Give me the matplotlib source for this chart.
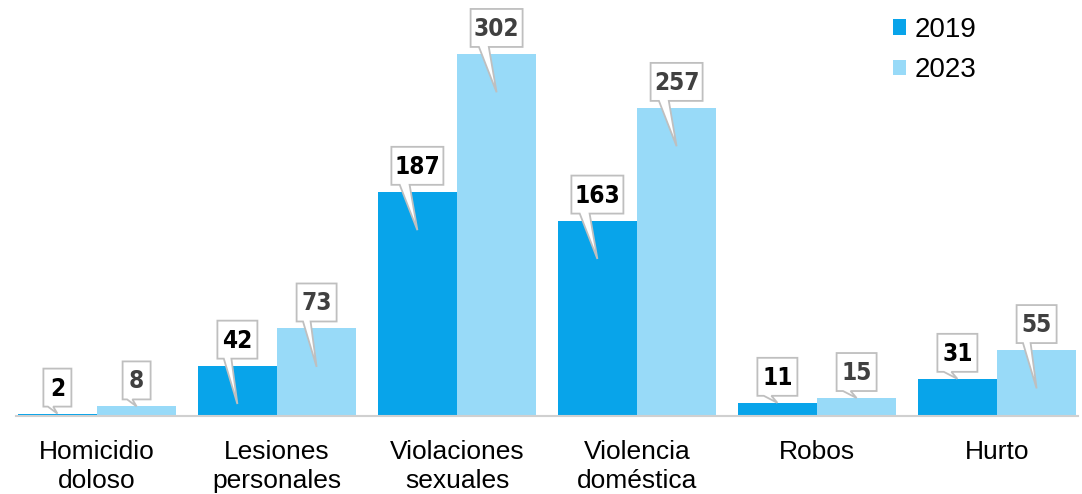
import matplotlib

matplotlib.use("Agg")

import matplotlib.pyplot as plt
import numpy as np
from matplotlib.patches import Polygon
from matplotlib.transforms import IdentityTransform

categories = ["Homicidio\ndoloso", "Lesiones\npersonales", "Violaciones\nsexuales",
              "Violencia\ndoméstica", "Robos", "Hurto"]
series_names = ["2019", "2023"]
values_2019 = [2, 42, 187, 163, 11, 31]
values_2023 = [8, 73, 302, 257, 15, 55]

COLOR_2019 = "#08A4EA"
COLOR_2023 = "#98DAF8"
GRID_GRAY = "#D0D0D0"
BOX_EDGE = "#BFBFBF"

plt.rcParams["font.family"] = ["Liberation Sans", "DejaVu Sans"]

fig = plt.figure(figsize=(10.82, 4.94), dpi=100)
ax = fig.add_axes([16 / 1082, 78 / 494, 1062 / 1082, 416 / 494])

x = np.arange(len(categories))
width = 0.44
ax.bar(x - width / 2, values_2019, width, color=COLOR_2019, label=series_names[0])
ax.bar(x + width / 2, values_2023, width, color=COLOR_2023, label=series_names[1])

ax.set_xlim(-0.45, len(categories) - 0.55)
ax.set_ylim(0, 347)
for side in ("left", "right", "top"):
    ax.spines[side].set_visible(False)
ax.spines["bottom"].set_color(GRID_GRAY)
ax.spines["bottom"].set_linewidth(1.5)
ax.set_yticks([])
ax.set_xticks(x)
ax.set_xticklabels(categories, fontsize=19, linespacing=1.27)
ax.tick_params(axis="x", length=0, pad=17, colors="#000000")

leg = ax.legend(loc="upper left", bbox_to_anchor=(893 / 1082, 1 - 17 / 494),
                bbox_transform=fig.transFigure, frameon=False, fontsize=20,
                handlelength=0.47, handleheight=0.47, handletextpad=0.3,
                labelspacing=0.52, borderpad=0, borderaxespad=0)


def callout(xc, value, text_color):
    # caja con cola que apunta hacia la barra
    cx, ty = ax.transData.transform((xc, value))
    tip_value = value - 32 if value > 35 else value
    _, tip_y = ax.transData.transform((xc, tip_value))
    label = str(value)
    w = 12 * len(label) + 16
    h = 38
    left, right = cx - w / 2, cx + w / 2
    bottom = ty + 7
    top = bottom + h
    a, b = cx - w * 0.34, cx - w * 0.15
    verts = [(left, bottom), (a, bottom), (cx, tip_y), (b, bottom),
             (right, bottom), (right, top), (left, top)]
    ax.add_patch(Polygon(verts, closed=True, facecolor="white", edgecolor=BOX_EDGE,
                         linewidth=1.3, transform=IdentityTransform(), clip_on=False,
                         zorder=5))
    ax.text(cx, bottom + h / 2 - 1, label, transform=IdentityTransform(), ha="center",
            va="center", fontsize=17.5, fontweight="bold", fontstretch="condensed",
            color=text_color, family="DejaVu Sans", zorder=6)


for i in range(len(categories)):
    callout(x[i] - width / 2, values_2019[i], "#000000")
    callout(x[i] + width / 2, values_2023[i], "#404040")

fig.savefig("out.png", dpi=100)
